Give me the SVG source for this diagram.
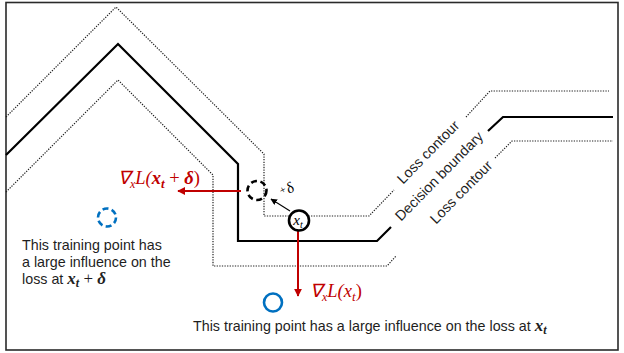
<svg xmlns="http://www.w3.org/2000/svg" width="624" height="353" viewBox="0 0 624 353">
  <style>
    .frame { fill: #fff; stroke: #2a2a2a; stroke-width: 1.6; }
    .boundary { fill: none; stroke: #000; stroke-width: 2.2; stroke-linejoin: miter; }
    .contour { fill: none; stroke: #222; stroke-width: 1.2; stroke-dasharray: 1.3 1.3; }
    .lbl { font-family: "Liberation Sans", Arial, sans-serif; font-size: 14.3px; fill: #1e1e1e; }
    .math { font-family: "Liberation Serif", "Times New Roman", serif; font-style: italic; }
    .bm { font-family: "Liberation Serif", "Times New Roman", serif; font-style: italic; font-weight: bold; }
    .red { fill: #C00000; }
    .redline { stroke: #C00000; stroke-width: 2; fill: none; }
    .pt { fill: #fff; stroke: #000; stroke-width: 2.6; }
    .ptdash { fill: none; stroke: #000; stroke-width: 2.6; stroke-dasharray: 6 3.6; }
    .blue { fill: none; stroke: #0070C0; stroke-width: 2.6; }
    .bluedash { fill: none; stroke: #0070C0; stroke-width: 2.6; stroke-dasharray: 6 3.4; }
  </style>
  <defs>
    <marker id="redhead" viewBox="0 0 10 10" refX="9" refY="5" markerWidth="4" markerHeight="4" orient="auto" markerUnits="strokeWidth">
      <path d="M0,0 L10,5 L0,10 z" fill="#C00000"/>
    </marker>
    <marker id="blackhead" viewBox="0 0 10 10" refX="9" refY="5" markerWidth="6" markerHeight="6" orient="auto" markerUnits="strokeWidth">
      <path d="M0,0 L10,5 L0,10 z" fill="#000"/>
    </marker>
  </defs>

  <rect class="frame" x="6" y="2.5" width="612" height="347.5"/>

  <g id="decision-boundary">
    <path class="boundary" d="M6,155 L118,44 L238,164 L238,241 L377,241 L391,227"/>
    <path class="boundary" d="M488,131 L503,117 L613,117"/>
    <text class="lbl" transform="translate(439,176) rotate(-45.5)" text-anchor="middle" dy="0.35em">Decision boundary</text>
  </g>

  <g id="loss-contour-upper">
    <path class="contour" d="M6,117 L116,7 L264,154 L264,216 L369,216 L394,190"/>
    <path class="contour" d="M466,117 L490,91 L609,91"/>
    <text class="lbl" transform="translate(428,152) rotate(-45.5)" text-anchor="middle" dy="0.35em">Loss contour</text>
  </g>

  <g id="loss-contour-lower">
    <path class="contour" d="M6,192 L118,80 L213,175 L213,266 L387,266 L396,256"/>
    <path class="contour" d="M495,158 L512,141 L613,141"/>
    <text class="lbl" transform="translate(461,192) rotate(-45.5)" text-anchor="middle" dy="0.35em">Loss contour</text>
  </g>

  <g id="connectors">
    <line class="redline" x1="241" y1="191" x2="178" y2="191" marker-end="url(#redhead)"/>
    <line class="redline" x1="298" y1="231" x2="298" y2="296" marker-end="url(#redhead)"/>
    <line x1="290" y1="211" x2="271" y2="199" stroke="#000" stroke-width="1.1" marker-end="url(#blackhead)"/>
  </g>

  <g id="point-xt">
    <circle class="pt" cx="299" cy="220.5" r="10"/>
    <text x="298" y="224.5" text-anchor="middle" font-size="15" class="math" fill="#000">x<tspan font-size="10" dy="3">t</tspan></text>
  </g>

  <g id="point-perturbed">
    <circle class="ptdash" cx="257" cy="190.5" r="9.5"/>
    <text transform="translate(289,194) rotate(-30)" text-anchor="middle" font-family="Liberation Serif, serif" font-style="italic" font-size="15" fill="#000"><tspan font-size="11" dy="-3">+</tspan><tspan dy="3">δ</tspan></text>
  </g>

  <g id="grad-perturbed-label">
    <text x="118" y="184" font-size="18.5" class="math red">∇<tspan font-size="12" dy="4">x</tspan><tspan dy="-4">L(</tspan><tspan class="bm">x</tspan><tspan class="bm" font-size="13" dy="4">t</tspan><tspan dy="-4" font-style="normal"> + </tspan><tspan class="bm">δ</tspan><tspan font-style="normal">)</tspan></text>
  </g>

  <g id="grad-label">
    <text x="310" y="297" font-size="18.5" class="math red">∇<tspan font-size="12" dy="4">x</tspan><tspan dy="-4">L(</tspan><tspan>x</tspan><tspan font-size="13" dy="4">t</tspan><tspan dy="-4" font-style="normal">)</tspan></text>
  </g>

  <g id="training-point-left">
    <circle class="bluedash" cx="107" cy="217.5" r="9"/>
    <text class="lbl" x="22" y="250">This training point has</text>
    <text class="lbl" x="22" y="267">a large influence on the</text>
    <text class="lbl" x="22" y="284">loss at <tspan class="bm" font-size="17">x</tspan><tspan class="bm" font-size="12" dy="3">t</tspan><tspan dy="-3" font-family="Liberation Serif, serif" font-size="17"> + </tspan><tspan class="bm" font-size="17">δ</tspan></text>
  </g>

  <g id="training-point-bottom">
    <circle class="blue" cx="273" cy="302.5" r="9"/>
    <text class="lbl" x="193" y="331">This training point has a large influence on the loss at <tspan class="bm" font-size="17">x</tspan><tspan class="bm" font-size="12" dy="3">t</tspan></text>
  </g>
</svg>
